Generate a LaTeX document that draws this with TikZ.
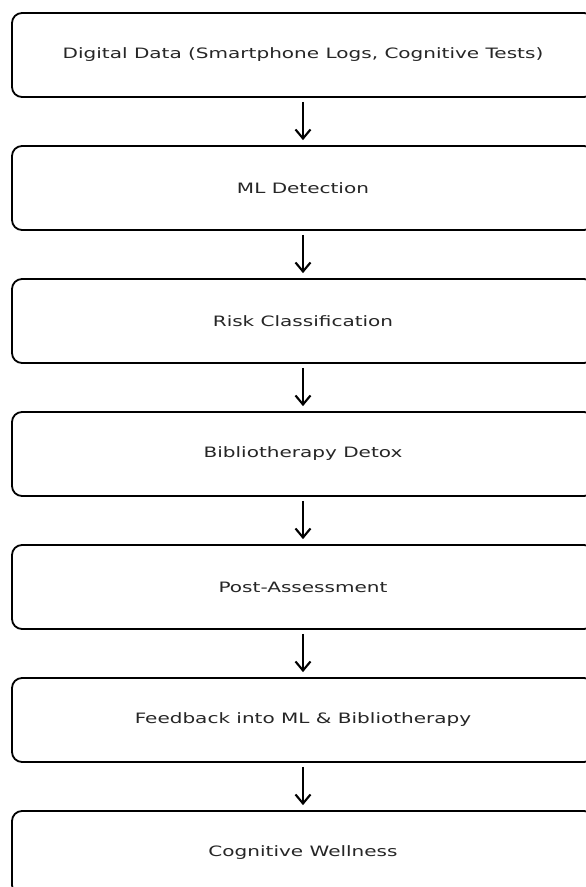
\documentclass[tikz,border=0pt]{standalone}
\usepackage{fontspec}
\newfontfamily\boxfont[FakeStretch=1.4]{DejaVu Sans}
\usetikzlibrary{positioning}
\usetikzlibrary{arrows.meta}
\tikzset{
    stepnode/.style = {rectangle, rounded corners=10pt, line width=1.8pt, draw=black, fill=white, align=center,
        minimum width=582pt, minimum height=84pt, font=\boxfont\fontsize{14.3}{16}\selectfont, text=black!85},
    edgea/.style = {line width=2.1pt, black, -{Straight Barb[length=9pt,width=15pt,line width=2.1pt]}, shorten <=4pt, shorten >=5pt}
}
\begin{document}
\begin{tikzpicture}[x=1pt,y=1pt]
\clip (0,0) rectangle (586,-887);
\useasboundingbox (0,0) rectangle (586,-887);
%
\node[stepnode] at (303,-55) (data) {Digital Data (Smartphone Logs, Cognitive Tests)};
\node[stepnode, below=47.2pt of data] (ml) {ML Detection};
\node[stepnode, below=47.2pt of ml] (risk) {Risk Classification};
\node[stepnode, below=47.2pt of risk] (detox) {Bibliotherapy Detox};
\node[stepnode, below=47.2pt of detox] (post) {Post-Assessment};
\node[stepnode, below=47.2pt of post] (feed) {Feedback into ML \& Bibliotherapy};
\node[stepnode, below=47.2pt of feed] (well) {Cognitive Wellness};
%
\draw[edgea] (data) -- (ml);
\draw[edgea] (ml) -- (risk);
\draw[edgea] (risk) -- (detox);
\draw[edgea] (detox) -- (post);
\draw[edgea] (post) -- (feed);
\draw[edgea] (feed) -- (well);
\end{tikzpicture}
\end{document}
